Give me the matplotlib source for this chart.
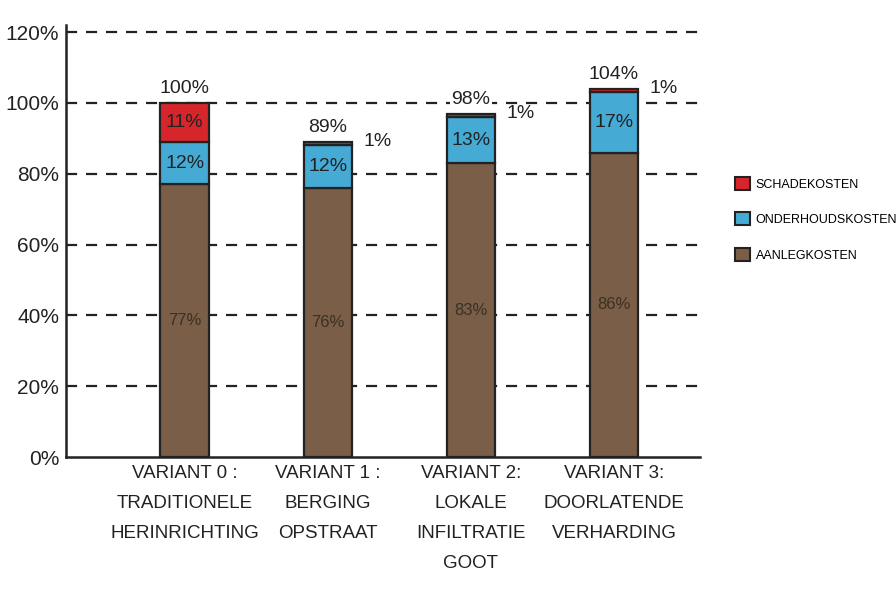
import numpy as np
import matplotlib.pyplot as plt
from matplotlib.patches import Patch

plt.rcParams['font.family'] = ['Liberation Sans', 'DejaVu Sans']

CATEGORIES = ["VARIANT 0 :\nTRADITIONELE\nHERINRICHTING",
              "VARIANT 1 :\nBERGING\nOPSTRAAT",
              "VARIANT 2:\nLOKALE\nINFILTRATIE\nGOOT",
              "VARIANT 3:\nDOORLATENDE\nVERHARDING"]
AANLEG = [77, 76, 83, 86]
ONDERHOUD = [12, 12, 13, 17]
SCHADE = [11, 1, 1, 1]
TOTALS = ["100%", "89%", "98%", "104%"]
YTICKS = [0, 20, 40, 60, 80, 100, 120]

COLORS = {"aanleg": "#7a5e47", "onderhoud": "#45aad4", "schade": "#d7262b"}
INK = "#222222"

fig = plt.figure(figsize=(8.96, 5.97), dpi=100)
ax = fig.add_axes([0.0737, 0.2345, 0.7073, 0.7235])

x = np.arange(len(CATEGORIES))
w = 0.34
aanleg = np.array(AANLEG)
onderhoud = np.array(ONDERHOUD)
schade = np.array(SCHADE)

kw = dict(width=w, edgecolor=INK, linewidth=1.6, zorder=3)
ax.bar(x, aanleg, color=COLORS["aanleg"], **kw)
ax.bar(x, onderhoud, bottom=aanleg, color=COLORS["onderhoud"], **kw)
ax.bar(x, schade, bottom=aanleg + onderhoud, color=COLORS["schade"], **kw)

for i in range(len(x)):
    ax.text(x[i], aanleg[i] / 2, f"{AANLEG[i]}%", ha="center", va="center",
            fontsize=12, color="#3a3026", zorder=4)
    ax.text(x[i], aanleg[i] + onderhoud[i] / 2, f"{ONDERHOUD[i]}%", ha="center",
            va="center", fontsize=14, color=INK, zorder=4)
    top = aanleg[i] + onderhoud[i] + schade[i]
    if SCHADE[i] > 3:
        ax.text(x[i], aanleg[i] + onderhoud[i] + schade[i] / 2, f"{SCHADE[i]}%",
                ha="center", va="center", fontsize=14, color=INK, zorder=4)
    else:
        ax.text(x[i] + w / 2 + 0.08, top, f"{SCHADE[i]}%", ha="left",
                va="center", fontsize=14, color=INK, zorder=4)
    ax.annotate(TOTALS[i], (x[i], top), xytext=(0, 4), textcoords="offset points",
                ha="center", va="bottom", fontsize=14, color=INK, zorder=4,
                bbox=dict(facecolor="white", edgecolor="none", pad=1))

ax.set_xlim(-0.83, 3.6)
ax.set_ylim(0, 122)
ax.set_yticks(YTICKS)
ax.set_yticklabels([f"{t}%" for t in YTICKS], fontsize=15, color=INK)
ax.set_xticks(x)
ax.set_xticklabels(CATEGORIES, fontsize=13.5, color=INK, linespacing=2.0)
ax.tick_params(axis="x", length=0, pad=6)
ax.tick_params(axis="y", length=0, pad=5)

for y in YTICKS[1:]:
    ax.axhline(y, color=INK, linewidth=1.6, dashes=(5, 4), zorder=1)

for s in ["top", "right"]:
    ax.spines[s].set_visible(False)
for s in ["left", "bottom"]:
    ax.spines[s].set_color(INK)
    ax.spines[s].set_linewidth(1.8)

handles = [Patch(facecolor=COLORS["schade"], edgecolor=INK, linewidth=1.5, label="SCHADEKOSTEN"),
           Patch(facecolor=COLORS["onderhoud"], edgecolor=INK, linewidth=1.5, label="ONDERHOUDSKOSTEN"),
           Patch(facecolor=COLORS["aanleg"], edgecolor=INK, linewidth=1.5, label="AANLEGKOSTEN")]
fig.legend(handles=handles, loc="upper left", bbox_to_anchor=(0.815, 0.712),
           frameon=False, fontsize=9, handlelength=1.2, handleheight=1.2,
           handletextpad=0.45, labelspacing=1.75, borderaxespad=0)

fig.savefig("out.png", dpi=100)
